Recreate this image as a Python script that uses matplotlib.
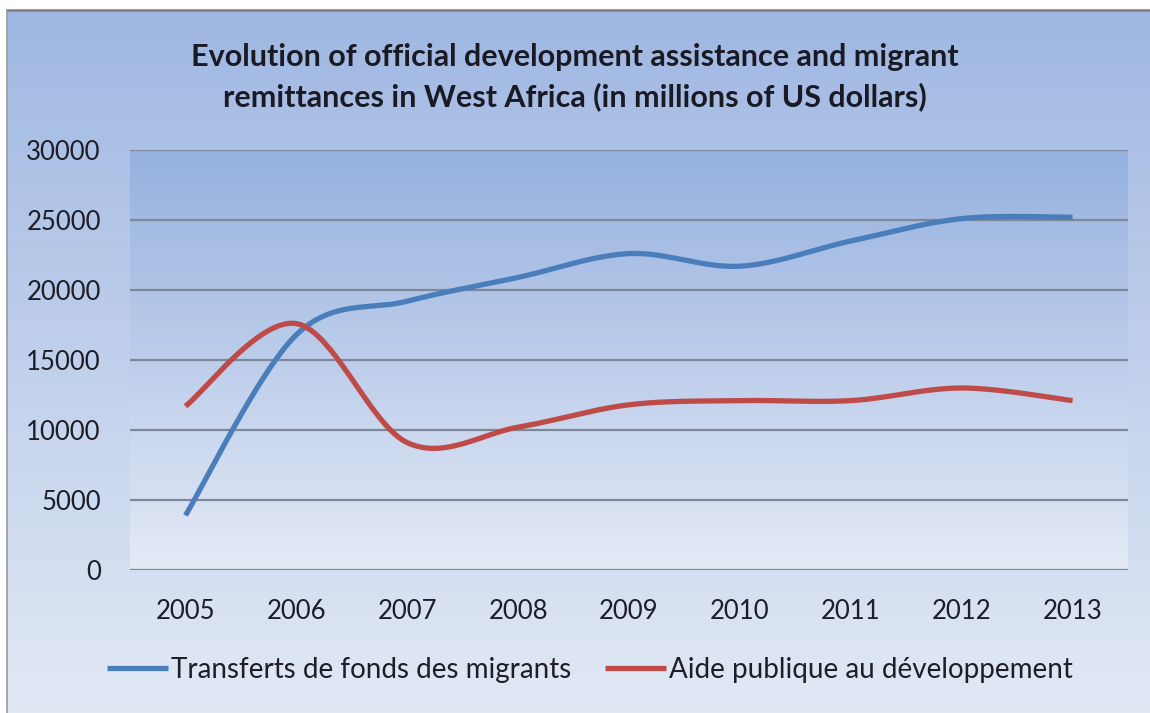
import numpy as np
import matplotlib
matplotlib.use("Agg")
import matplotlib.pyplot as plt
from matplotlib.lines import Line2D
from matplotlib.colors import LinearSegmentedColormap

years = ["2005", "2006", "2007", "2008", "2009", "2010", "2011", "2012", "2013"]
transferts = [3900, 16800, 19200, 20900, 22600, 21700, 23500, 25100, 25200]
aide = [11700, 17600, 9100, 10200, 11800, 12100, 12100, 13000, 12100]
series_names = ["Transferts de fonds des migrants", "Aide publique au développement"]
series_colors = ["#4a7ebb", "#be4b48"]
title = "Evolution of official development assistance and migrant\nremittances in West Africa (in millions of US dollars)"
yticks = [0, 5000, 10000, 15000, 20000, 25000, 30000]

FONT = ["Lato", "DejaVu Sans"]
plt.rcParams["font.family"] = FONT

W, H = 1150, 713
fig = plt.figure(figsize=(W / 100, H / 100), dpi=100)
fig.patch.set_facecolor("white")

def fx(px):
    return px / W

def fy(py):
    return 1 - py / H

# chart-area gradient background
bg = fig.add_axes([fx(7), 0, 1 - fx(7), fy(10)])
bg.axis("off")
grad = np.linspace(0, 1, 256).reshape(-1, 1)
cm_chart = LinearSegmentedColormap.from_list("c", ["#9fb7e2", "#e2e9f5"])
bg.imshow(grad, aspect="auto", cmap=cm_chart, extent=[0, 1, 0, 1])
bg.set_xlim(0, 1); bg.set_ylim(0, 1)

# border lines
fig.add_artist(Line2D([fx(7), 1], [fy(10), fy(10)], color="#7d7d80", lw=1.8))
fig.add_artist(Line2D([fx(7), fx(7)], [fy(10), 0], color="#9a9aa0", lw=1.2))

# main axes
ax = fig.add_axes([fx(130), fy(570), fx(1128) - fx(130), fy(150) - fy(570)])
cm_plot = LinearSegmentedColormap.from_list("p", ["#96b1df", "#e4eaf6"])
ax.imshow(grad, aspect="auto", cmap=cm_plot, extent=[0, 1, 0, 1],
          transform=ax.transAxes, zorder=0)
ax.set_xlim(-0.5, len(years) - 0.5)
ax.set_ylim(0, 30000)
ax.set_yticks(yticks)
ax.set_xticks(range(len(years)))
ax.set_xticklabels(years)
for t in yticks:
    ax.axhline(t, color="#7c8799", lw=1.6, zorder=1)
for s in ax.spines.values():
    s.set_visible(False)
ax.tick_params(axis="both", length=0, labelsize=18.5, colors="#1e1e28")
ax.tick_params(axis="y", pad=21)
ax.tick_params(axis="x", pad=21)

def smooth(xs, ys, n=40):
    P = np.column_stack([xs, ys]).astype(float)
    Pe = np.vstack([P[0], P, P[-1]])
    out = []
    for i in range(len(P) - 1):
        p0, p1, p2, p3 = Pe[i], Pe[i + 1], Pe[i + 2], Pe[i + 3]
        c1 = p1 + (p2 - p0) / 6
        c2 = p2 - (p3 - p1) / 6
        t = np.linspace(0, 1, n)[:, None]
        seg = ((1 - t) ** 3) * p1 + 3 * ((1 - t) ** 2) * t * c1 + 3 * (1 - t) * t ** 2 * c2 + t ** 3 * p2
        out.append(seg if i == 0 else seg[1:])
    pts = np.vstack(out)
    return pts[:, 0], pts[:, 1]

xs = np.arange(len(years))
handles = []
for vals, name, col in zip([transferts, aide], series_names, series_colors):
    sx, sy = smooth(xs, vals)
    ln, = ax.plot(sx, sy, color=col, lw=3.8, solid_capstyle="butt", zorder=3, label=name)
    handles.append(ln)

fig.text(0.5, fy(77), title, ha="center", va="center", fontsize=22,
         fontweight="bold", color="#1a1a24", linespacing=1.45)

fig.legend(handles=handles, labels=series_names, loc="center",
           bbox_to_anchor=(fx(590), fy(670)), ncol=2, frameon=False,
           fontsize=20, handlelength=2.2, handletextpad=0.1,
           columnspacing=1.2, labelcolor="#1e1e28")

fig.savefig("out.png", dpi=100)
